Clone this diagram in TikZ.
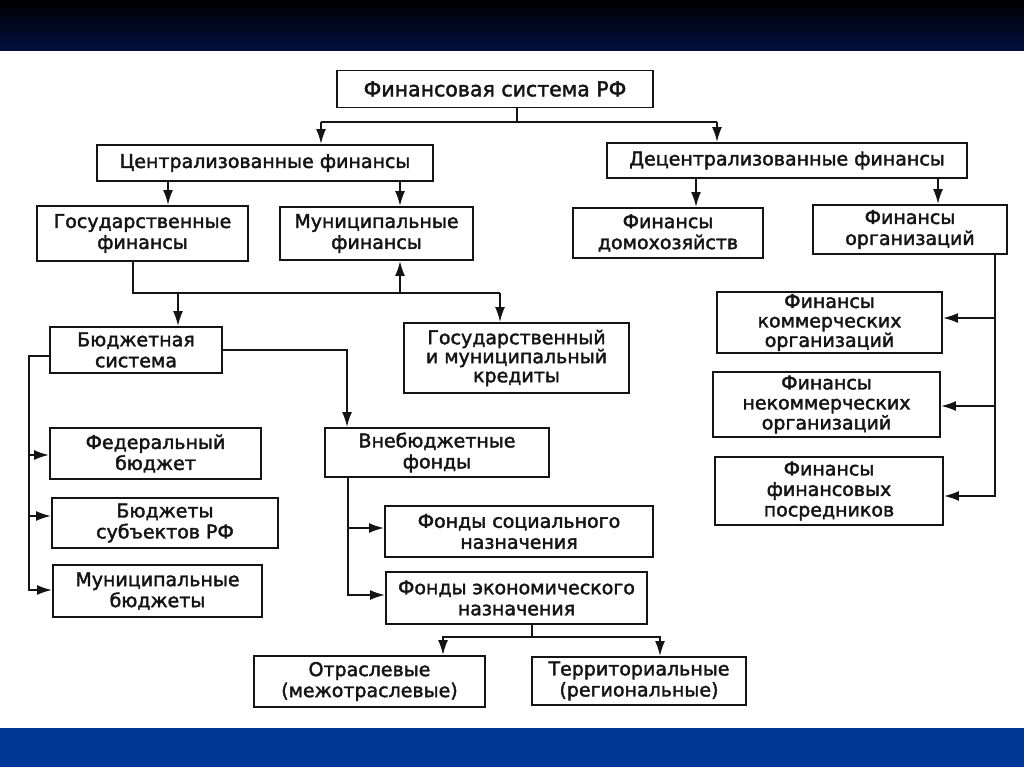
\documentclass[tikz,border=0pt]{standalone}
\usepackage{fontspec}
\setmainfont{DejaVu Sans}
\newfontfamily\boxfont{DejaVu Sans}[FakeBold=2]
\usetikzlibrary{arrows.meta}
\definecolor{bandblue}{RGB}{0,56,152}
\definecolor{topnavy}{RGB}{2,16,64}
\definecolor{ink}{RGB}{20,20,20}
\begin{document}
\begin{tikzpicture}[x=1pt,y=-1pt,
  box/.style={draw=ink, line width=1.9pt, align=center, inner sep=0pt, text=ink,
    font=\boxfont\fontsize{19}{21}\selectfont},
  ln/.style={draw=ink, line width=1.9pt},
  arr/.style={draw=ink, line width=1.9pt, -{Latex[length=15pt,width=10pt]}}]
\useasboundingbox (0,0) rectangle (1024,767);
\shade[top color=black, bottom color=topnavy] (0,0) rectangle (1024,51);
\fill[white] (0,51) rectangle (1024,728);
\fill[bandblue] (0,728) rectangle (1024,767);
% nodes
\node[box, minimum width=316, minimum height=37, font=\boxfont\fontsize{20.5}{21}\selectfont] (top) at (495,89) {Финансовая система РФ};
\node[box, minimum width=336, minimum height=36] (cent) at (265,163) {Централизованные финансы};
\node[box, minimum width=360, minimum height=35] (decent) at (787,160.5) {Децентрализованные финансы};
\node[box, minimum width=211, minimum height=55] (gosfin) at (142.5,233.5) {Государственные\\финансы};
\node[box, minimum width=193, minimum height=53] (munfin) at (376.5,233.5) {Муниципальные\\финансы};
\node[box, minimum width=190, minimum height=50] (domo) at (668,233) {Финансы\\домохозяйств};
\node[box, minimum width=194, minimum height=49] (org) at (910,229.5) {Финансы\\организаций};
\node[box, minimum width=172, minimum height=46] (budsys) at (136,350) {Бюджетная\\система};
\node[box, minimum width=225, minimum height=70, font=\boxfont\fontsize{19}{19}\selectfont] (kred) at (516.5,358) {Государственный\\и муниципальный\\кредиты};
\node[box, minimum width=225, minimum height=61, font=\boxfont\fontsize{19}{19.5}\selectfont] (komm) at (829.5,322.5) {Финансы\\коммерческих\\организаций};
\node[box, minimum width=227, minimum height=65, font=\boxfont\fontsize{19}{20}\selectfont] (nekomm) at (826.5,404.5) {Финансы\\некоммерческих\\организаций};
\node[box, minimum width=228, minimum height=68, font=\boxfont\fontsize{19}{20.5}\selectfont] (posr) at (829,491) {Финансы\\финансовых\\посредников};
\node[box, minimum width=211, minimum height=51] (fed) at (155.5,453.5) {Федеральный\\бюджет};
\node[box, minimum width=226, minimum height=50] (subj) at (165,523) {Бюджеты\\субъектов РФ};
\node[box, minimum width=209, minimum height=52] (munbud) at (157.5,591) {Муниципальные\\бюджеты};
\node[box, minimum width=224, minimum height=49] (vneb) at (437,452.5) {Внебюджетные\\фонды};
\node[box, minimum width=268, minimum height=51] (soc) at (519,531.5) {Фонды социального\\назначения};
\node[box, minimum width=261, minimum height=52] (econ) at (516.5,598) {Фонды экономического\\назначения};
\node[box, minimum width=231, minimum height=51] (otr) at (369.5,681.5) {Отраслевые\\(межотраслевые)};
\node[box, minimum width=214, minimum height=48] (terr) at (639,681) {Территориальные\\(региональные)};
% top split
\coordinate (j1) at (517,122);
\coordinate (a1) at (321,122);
\coordinate (a2) at (717,122);
\draw[ln] (top.south -| j1) -- (j1);
\draw[ln] (a1) -- (a2);
\draw[arr] (a1) -- (cent.north -| a1);
\draw[arr] (a2) -- (decent.north -| a2);
% centralised
\coordinate (x168) at (168,0);
\coordinate (x400) at (400,0);
\draw[arr] (cent.south -| x168) -- (gosfin.north -| x168);
\draw[arr] (cent.south -| x400) -- (munfin.north -| x400);
% junction under state finances
\coordinate (h1) at (133,293);
\coordinate (h2) at (500,293);
\coordinate (h3) at (178,293);
\coordinate (h4) at (400,293);
\draw[ln] (gosfin.south -| h1) -- (h1) -- (h2);
\draw[arr] (h2) -- (kred.north -| h2);
\draw[arr] (h3) -- (budsys.north -| h3);
\draw[arr] (h4) -- (munfin.south -| h4);
% budget system right
\coordinate (b1) at (347,350);
\draw[arr] (budsys.east |- b1) -- (b1) -- (vneb.north -| b1);
% budget system left
\coordinate (l1) at (29,356);
\coordinate (l2) at (29,590);
\coordinate (l3) at (29,455);
\coordinate (l4) at (29,516);
\draw[arr] (budsys.west |- l1) -- (l1) -- (l2) -- (munbud.west |- l2);
\draw[arr] (l3) -- (fed.west |- l3);
\draw[arr] (l4) -- (subj.west |- l4);
% extra-budgetary funds
\coordinate (v1) at (348,595);
\coordinate (v2) at (348,528);
\draw[arr] (vneb.south -| v1) -- (v1) -- (econ.west |- v1);
\draw[arr] (v2) -- (soc.west |- v2);
% economic funds
\coordinate (e0) at (532,637);
\coordinate (e1) at (443,637);
\coordinate (e2) at (660,637);
\draw[ln] (econ.south -| e0) -- (e0);
\draw[arr] (e0) -- (e1) -- (otr.north -| e1);
\draw[arr] (e0) -- (e2) -- (terr.north -| e2);
% decentralised
\coordinate (x696) at (696,0);
\coordinate (x938) at (938,0);
\draw[arr] (decent.south -| x696) -- (domo.north -| x696);
\draw[arr] (decent.south -| x938) -- (org.north -| x938);
% organisations
\coordinate (r1) at (995,496);
\coordinate (r2) at (995,318);
\coordinate (r3) at (995,406);
\draw[arr] (org.south -| r1) -- (r1) -- (posr.east |- r1);
\draw[arr] (r2) -- (komm.east |- r2);
\draw[arr] (r3) -- (nekomm.east |- r3);
\end{tikzpicture}
\end{document}
